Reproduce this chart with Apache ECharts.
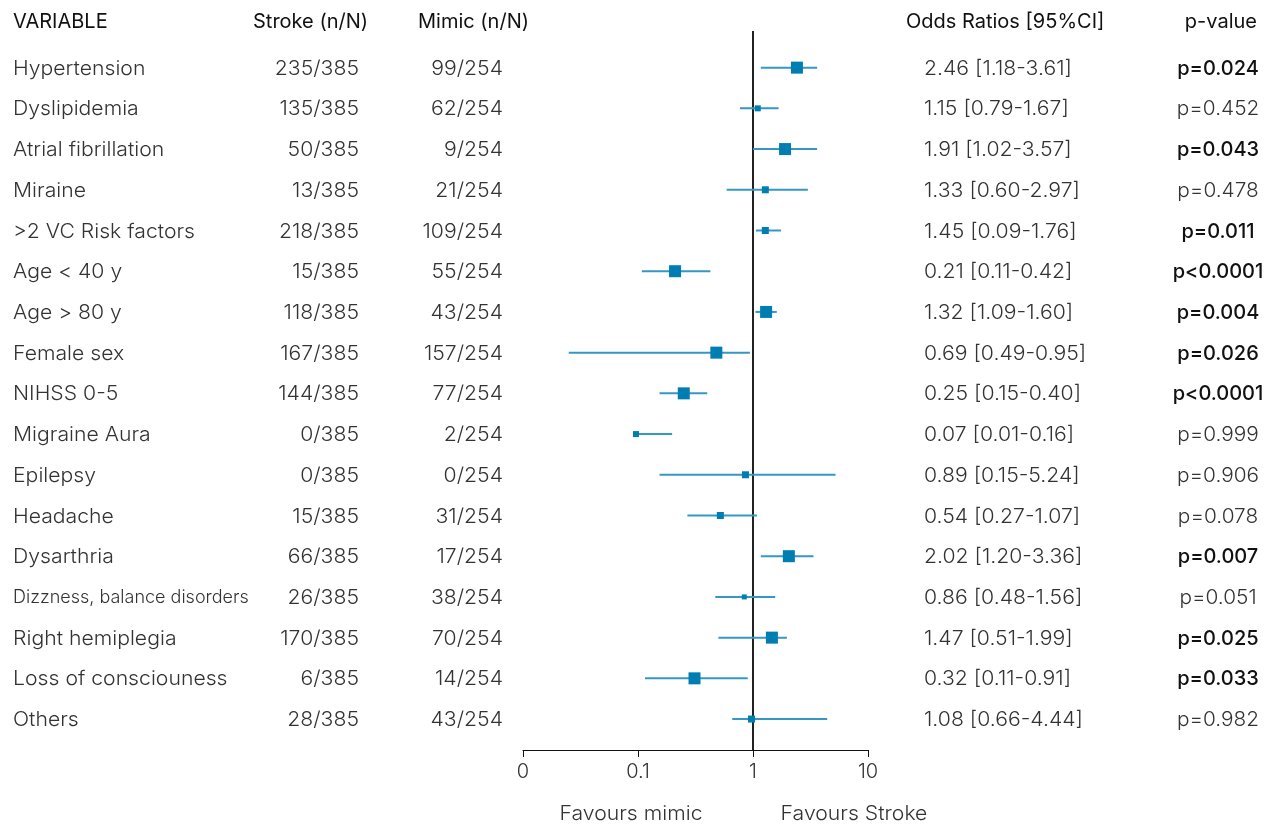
<!DOCTYPE html>
<html>
<head>
<meta charset="utf-8">
<script src="https://cdn.jsdelivr.net/npm/echarts@6/dist/echarts.min.js"></script>
<style>
html,body{margin:0;padding:0;background:#fff;}
#chart{width:1274px;height:825px;}
</style>
</head>
<body>
<div id="chart"></div>
<script>
// ---- DATA ----
const variables = ['Hypertension','Dyslipidemia','Atrial fibrillation','Miraine','>2 VC Risk factors','Age < 40 y','Age > 80 y','Female sex','NIHSS 0-5','Migraine Aura','Epilepsy','Headache','Dysarthria','Dizzness, balance disorders','Right hemiplegia','Loss of consciouness','Others'];
const strokeN = ['235/385','135/385','50/385','13/385','218/385','15/385','118/385','167/385','144/385','0/385','0/385','15/385','66/385','26/385','170/385','6/385','28/385'];
const mimicN = ['99/254','62/254','9/254','21/254','109/254','55/254','43/254','157/254','77/254','2/254','0/254','31/254','17/254','38/254','70/254','14/254','43/254'];
const orText = ['2.46 [1.18-3.61]','1.15 [0.79-1.67]','1.91 [1.02-3.57]','1.33 [0.60-2.97]','1.45 [0.09-1.76]','0.21 [0.11-0.42]','1.32 [1.09-1.60]','0.69 [0.49-0.95]','0.25 [0.15-0.40]','0.07 [0.01-0.16]','0.89 [0.15-5.24]','0.54 [0.27-1.07]','2.02 [1.20-3.36]','0.86 [0.48-1.56]','1.47 [0.51-1.99]','0.32 [0.11-0.91]','1.08 [0.66-4.44]'];
const pText = ['p=0.024','p=0.452','p=0.043','p=0.478','p=0.011','p<0.0001','p=0.004','p=0.026','p<0.0001','p=0.999','p=0.906','p=0.078','p=0.007','p=0.051','p=0.025','p=0.033','p=0.982'];
const pSignificant = [true,false,true,false,true,true,true,true,true,false,false,false,true,false,true,true,false];
// plotted estimates (as drawn in the figure)
const oddsRatio = [2.41,1.10,1.90,1.28,1.28,0.21,1.30,0.48,0.25,0.096,0.86,0.52,2.05,0.84,1.46,0.31,0.97];
const ciLow  = [1.17,0.77,1.00,0.59,1.06,0.108,1.05,0.025,0.154,0.096,0.154,0.269,1.17,0.47,0.50,0.115,0.66];
const ciHigh = [3.61,1.67,3.61,3.00,1.75,0.426,1.61,0.94,0.40,0.198,5.22,1.08,3.36,1.56,1.97,0.90,4.42];
const xTickValues = [0.01,0.1,1,10];
const xTickLabels = ['0','0.1','1','10'];
const headers = ['VARIABLE','Stroke (n/N)','Mimic (n/N)','Odds Ratios [95%CI]','p-value'];
const favourLabels = ['Favours mimic','Favours Stroke'];

// ---- STYLE ----
const boxSizes = [12,6,12,7,7,12,12,12,12,6,7,7,12,5,12,12,7];
const FONT = 'Inter';
const FS = 20;
const WIDEN = 1.06;
const BODY = '#333';
const DARK = '#111';
const LINE_COLOR = '#3597c3';
const BOX_COLOR = '#007db1';

const chart = echarts.init(document.getElementById('chart'), null, {renderer:'canvas'});

const rows = variables.map((v,i)=>[oddsRatio[i], i, ciLow[i], ciHigh[i]]);

function textSeries(name, x, align, getText, getStyle, getScale){
  return {
    type:'custom', name, silent:true, z:5,
    data: variables.map((v,i)=>[1,i]),
    renderItem(params, api){
      const i = api.value(1);
      const y = api.coord([1,i])[1] + 1;
      const st = getStyle ? getStyle(i) : {};
      return {
        type:'text',
        x:x, y:y,
        scaleX: getScale ? getScale(i) : WIDEN,
        style:Object.assign({
          x:0, y:0, text:getText(i), align:align, verticalAlign:'middle',
          fontFamily:FONT, fontSize:FS, fontWeight:300, fill:BODY
        }, st)
      };
    }
  };
}

const headStyle = {fontFamily:FONT, fontSize:FS, fontWeight:400, fill:DARK, verticalAlign:'middle'};
const favStyle = {x:0, y:0, align:'center', verticalAlign:'middle', fontFamily:FONT, fontSize:FS, fontWeight:300, fill:BODY};

const option = {
  animation:false,
  backgroundColor:'#fff',
  grid:{left:523, right:1274-868, top:31, bottom:75, containLabel:false},
  xAxis:{
    type:'log', logBase:10, min:0.01, max:10,
    splitLine:{show:false},
    axisLine:{show:true, onZero:false, lineStyle:{color:'#111', width:1}},
    axisTick:{show:true, length:7, lineStyle:{color:'#111'}},
    minorTick:{show:false},
    axisLabel:{
      margin:12, fontFamily:FONT, fontSize:FS, fontWeight:300, color:BODY,
      formatter:function(v){
        const k = xTickValues.findIndex(t=>Math.abs(Math.log10(t)-Math.log10(v))<1e-6);
        return k>=0 ? xTickLabels[k] : '';
      }
    }
  },
  yAxis:{
    type:'value', inverse:true, min:-0.9, max:16.76,
    show:false
  },
  series:[
    {
      type:'custom', name:'forest', z:10,
      data:rows,
      encode:{x:0,y:1},
      renderItem(params, api){
        const i = api.value(1);
        const p = api.coord([api.value(0), i]);
        const a = api.coord([api.value(2), i]);
        const b = api.coord([api.value(3), i]);
        const s = boxSizes[i];
        return {
          type:'group',
          children:[
            {type:'line', shape:{x1:a[0], y1:p[1], x2:b[0], y2:p[1]}, style:{stroke:LINE_COLOR, lineWidth:2}},
            {type:'rect', shape:{x:p[0]-s/2, y:p[1]-s/2, width:s, height:s}, style:{fill:BOX_COLOR}}
          ]
        };
      },
      markLine:{
        silent:true, symbol:['none','none'], label:{show:false},
        lineStyle:{color:'#222', width:2, type:'solid'},
        data:[[{coord:[1,-0.9]},{coord:[1,16.76]}]]
      }
    },
    textSeries('var', 13, 'left', i=>variables[i], i=> i===13 ? {fontSize:18} : {}, i=> i===13 ? 1 : WIDEN),
    textSeries('stroke', 359, 'right', i=>strokeN[i]),
    textSeries('mimic', 503, 'right', i=>mimicN[i]),
    textSeries('or', 924, 'left', i=>orText[i]),
    textSeries('p', 1218, 'center', i=>pText[i], i=> pSignificant[i] ? {fontWeight:500, fill:DARK} : {}, i=> pSignificant[i] ? 1 : 1.04)
  ],
  graphic:[
    {type:'text', x:13, y:22, style:Object.assign({text:headers[0], align:'left'}, headStyle)},
    {type:'text', x:253, y:22, style:Object.assign({text:headers[1], align:'left'}, headStyle)},
    {type:'text', x:418, y:22, style:Object.assign({text:headers[2], align:'left'}, headStyle)},
    {type:'text', x:906, y:22, style:Object.assign({text:headers[3], align:'left'}, headStyle)},
    {type:'text', x:1257, y:22, style:Object.assign({text:headers[4], align:'right'}, headStyle)},
    {type:'text', x:631, y:814, scaleX:WIDEN, style:Object.assign({text:favourLabels[0]}, favStyle)},
    {type:'text', x:854, y:814, scaleX:WIDEN, style:Object.assign({text:favourLabels[1]}, favStyle)}
  ]
};
chart.setOption(option);
</script>
</body>
</html>
